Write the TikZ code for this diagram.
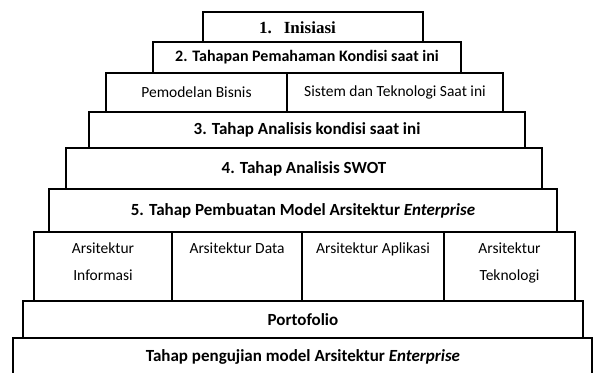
\documentclass[tikz,border=0pt]{standalone}
\usepackage{fontspec}
\setmainfont{Carlito}
\newfontfamily\numfont{Liberation Serif}
\usetikzlibrary{positioning}

\tikzset{
	stage/.style={draw, line width=1.4pt, inner sep=0pt, font=\bfseries\fontsize{17}{18}\selectfont},
	part/.style={draw, line width=1.4pt, inner sep=0pt, font=\fontsize{15.5}{16}\selectfont},
	parttext/.style={inner sep=0pt, align=center, anchor=north, font=\fontsize{15.5}{27}\selectfont}
}

\begin{document}
\begin{tikzpicture}[x=1pt, y=-1pt]
		
		\useasboundingbox (0,0) rectangle (594,372);
		\clip (0,0) rectangle (594,372);
		
		%//steps from the top down
		\node [stage, minimum width=220pt, minimum height=30pt] (inisiasi) at (313,27) {};
		\node [inner sep=0pt, font=\numfont\bfseries\fontsize{17}{18}\selectfont] (inisiasitext) at (297.5,28) {1.\hspace{12pt}Inisiasi};
		
		\node [stage, minimum width=308pt, minimum height=31pt, font=\bfseries\fontsize{16}{17}\selectfont] (pemahaman) at (307,57.5) {2. Tahapan Pemahaman Kondisi saat ini};
		
		\node [part, minimum width=181pt, minimum height=39pt] (bisnis) at (196.5,92.5) {Pemodelan Bisnis};
		\node [part, minimum width=216pt, minimum height=39pt] (sistem) at (395,92.5) {Sistem dan Teknologi Saat ini};
		
		\node [stage, minimum width=436pt, minimum height=36pt] (analisis) at (307,130) {3. Tahap Analisis kondisi saat ini};
		\node [stage, minimum width=476pt, minimum height=41pt] (swot) at (304,168.5) {4. Tahap Analisis SWOT};
		\node [stage, minimum width=508pt, minimum height=43pt] (model) at (303,210.5) {5. Tahap Pembuatan Model Arsitektur \textit{Enterprise}};
		
		%//the four architecture cells
		\foreach \name/\x/\w in {informasi/103/138, data/237/130, aplikasi/373/142, teknologi/509.5/131}
		\node [part, minimum width=\w pt, minimum height=69pt] (\name) at (\x,266.5) {};
		
		\node [parttext] (informasitext) at (103,243) {Arsitektur\\Informasi};
		\node [parttext] (datatext) at (237,243) {Arsitektur Data};
		\node [parttext] (aplikasitext) at (373,243) {Arsitektur Aplikasi};
		\node [parttext] (teknologitext) at (509.5,243) {Arsitektur\\Teknologi};
		
		\node [stage, minimum width=560pt, minimum height=37pt] (portofolio) at (303,319.5) {Portofolio};
		\node [stage, minimum width=579pt, minimum height=40pt] (pengujian) at (302.5,358) {};
		\node [font=\bfseries\fontsize{17}{18}\selectfont] (pengujiantext) at (303,357) {Tahap pengujian model Arsitektur \textit{Enterprise}};
		
\end{tikzpicture}
\end{document}
